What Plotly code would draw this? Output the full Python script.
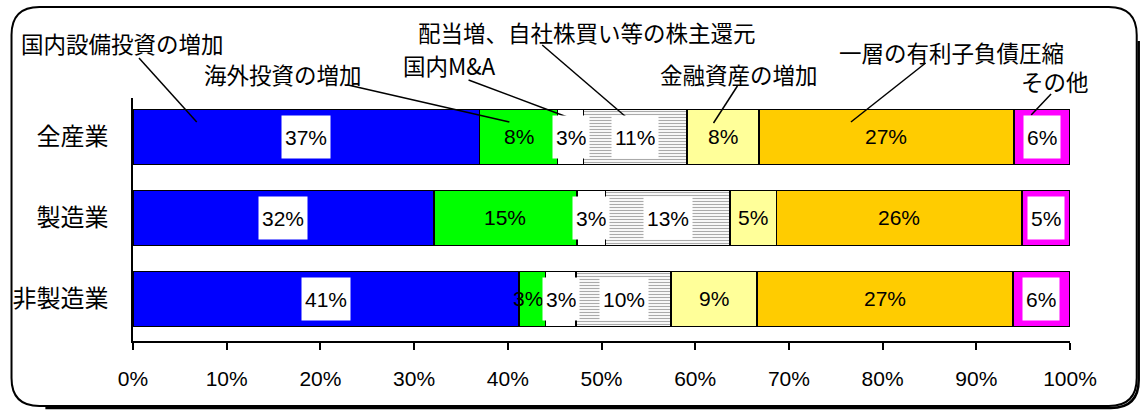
import plotly.graph_objects as go

# ---- data -------------------------------------------------------------
categories = ["全産業", "製造業", "非製造業"]

series_names = [
    "国内設備投資の増加",
    "海外投資の増加",
    "国内M&A",
    "配当増、自社株買い等の株主還元",
    "金融資産の増加",
    "一層の有利子負債圧縮",
    "その他",
]

domestic_capex = [37.0, 32.1, 41.2]
overseas_invest = [8.3, 15.3, 2.8]
domestic_ma = [2.8, 3.0, 3.3]
shareholder_return = [11.0, 13.3, 10.1]
financial_assets = [7.7, 5.0, 9.2]
debt_reduction = [27.2, 26.2, 27.3]
other_uses = [6.0, 5.1, 6.1]

x_tick_values = [0, 10, 20, 30, 40, 50, 60, 70, 80, 90, 100]
x_tick_labels = ["0%", "10%", "20%", "30%", "40%", "50%",
                 "60%", "70%", "80%", "90%", "100%"]

# ---- styling ----------------------------------------------------------
series_values = [domestic_capex, overseas_invest, domestic_ma,
                 shareholder_return, financial_assets, debt_reduction,
                 other_uses]
series_colors = ["#0000FF", "#00FF00", "#FFFFFF", "#FFFFFF",
                 "#FFFF99", "#FFCC00", "#FF00FF"]
label_boxed = [True, False, True, True, False, False, True]

W, H = 1144, 412
PLOT_L, PLOT_R, PLOT_T, PLOT_B = 129, 1070, 98, 341

JP_FONT = "Noto Sans CJK JP, Noto Sans CJK SC, sans-serif"
NUM_FONT = "Liberation Sans, Arial, sans-serif"
NUM_SIZE = 21


def px(x):
    return (x - PLOT_L) / (PLOT_R - PLOT_L)


def py(y):
    return (PLOT_B - y) / (PLOT_B - PLOT_T)


fig = go.Figure()

for name, vals, color in zip(series_names, series_values, series_colors):
    marker = dict(color=color, line=dict(color="black", width=1.5))
    if name == "配当増、自社株買い等の株主還元":
        marker["pattern"] = dict(shape="-", size=3, solidity=0.4,
                                 fgcolor="#555555", bgcolor="white",
                                 fillmode="overlay")
    fig.add_trace(go.Bar(
        y=categories, x=vals, name=name, orientation="h",
        marker=marker, width=0.68, hoverinfo="skip",
    ))

# value labels centred in each segment; very narrow segments get
# their label nudged left so it clears the boxed label beside it
annotations = []
for ci, cat in enumerate(categories):
    start = 0.0
    for vals, boxed in zip(series_values, label_boxed):
        v = vals[ci]
        ann = dict(
            x=start + v / 2, y=cat, xref="x", yref="y",
            text=f"{v:.0f}%", showarrow=False,
            font=dict(family=NUM_FONT, size=NUM_SIZE, color="black"),
            xanchor="center", yanchor="middle",
        )
        if boxed:
            ann.update(bgcolor="white", borderpad=3, height=36)
        elif v < 4:
            ann.update(xshift=-4)
        annotations.append(ann)
        start += v

# callout captions (pixel centre) and their leader lines (tail -> tip)
callouts = [
    ("国内設備投資の増加", (118, 43), (135, 58), (193, 122)),
    ("海外投資の増加", (280, 74), (345, 85), (507, 122)),
    ("国内M&A", (447, 65), (466, 80), (565, 117)),
    ("配当増、自社株買い等の株主還元", (585, 32), (540, 45), (630, 122)),
    ("金融資産の増加", (738, 74), (736, 86), (712, 123)),
    ("一層の有利子負債圧縮", (951, 52), (925, 63), (850, 122)),
    ("その他", (1055, 81), (1051, 94), (1031, 115)),
]

shapes = []
for text, (cx, cy), (tx, ty), (hx, hy) in callouts:
    annotations.append(dict(
        x=px(cx), y=py(cy), xref="paper", yref="paper", text=text,
        showarrow=False, xanchor="center", yanchor="middle",
        font=dict(family=JP_FONT, size=22.5, color="black"),
    ))
    shapes.append(dict(
        type="line", xref="paper", yref="paper",
        x0=px(tx), y0=py(ty), x1=px(hx), y1=py(hy),
        line=dict(color="black", width=1.5),
    ))


# rounded outer frame
def rounded_rect(l, t, r, b, rad):
    pts = [
        f"M{px(l + rad)},{py(t)}",
        f"L{px(r - rad)},{py(t)}",
        f"Q{px(r)},{py(t)} {px(r)},{py(t + rad)}",
        f"L{px(r)},{py(b - rad)}",
        f"Q{px(r)},{py(b)} {px(r - rad)},{py(b)}",
        f"L{px(l + rad)},{py(b)}",
        f"Q{px(l)},{py(b)} {px(l)},{py(b - rad)}",
        f"L{px(l)},{py(t + rad)}",
        f"Q{px(l)},{py(t)} {px(l + rad)},{py(t)}",
        "Z",
    ]
    return " ".join(pts)


def shadow_edge(l, t, r, b, rad, off):
    pts = [
        f"M{px(r + off)},{py(t + rad + 6)}",
        f"L{px(r + off)},{py(b - rad + off)}",
        f"Q{px(r + off)},{py(b + off)} {px(r - rad + off)},{py(b + off)}",
        f"L{px(l + rad + 6)},{py(b + off)}",
    ]
    return " ".join(pts)


shapes.append(dict(type="path", xref="paper", yref="paper",
                   path=shadow_edge(7, 7, 1137, 406, 28, 2),
                   line=dict(color="black", width=2.5), layer="above"))
shapes.append(dict(type="path", xref="paper", yref="paper",
                   path=rounded_rect(7, 7, 1137, 406, 28),
                   line=dict(color="black", width=2), layer="above"))

fig.update_layout(
    width=W, height=H,
    margin=dict(l=PLOT_L, r=W - PLOT_R, t=PLOT_T, b=H - PLOT_B),
    barmode="stack", bargap=0.3,
    showlegend=False,
    paper_bgcolor="white", plot_bgcolor="white",
    annotations=annotations, shapes=shapes,
    xaxis=dict(
        range=[0, 100], tickvals=x_tick_values, ticktext=x_tick_labels,
        showgrid=False, zeroline=False,
        showline=True, linecolor="black", linewidth=1.5,
        ticks="outside", ticklen=7, tickwidth=1.5, tickcolor="black",
        ticklabelstandoff=11,
        tickfont=dict(family=NUM_FONT, size=NUM_SIZE, color="black"),
    ),
    yaxis=dict(
        type="category", categoryorder="array", categoryarray=categories,
        range=[2.52, -0.48],
        showgrid=False, zeroline=False,
        showline=True, linecolor="black", linewidth=1.5,
        ticks="", ticklabelstandoff=18,
        tickfont=dict(family=JP_FONT, size=24, color="black"),
    ),
)

fig.write_html("out.html")
